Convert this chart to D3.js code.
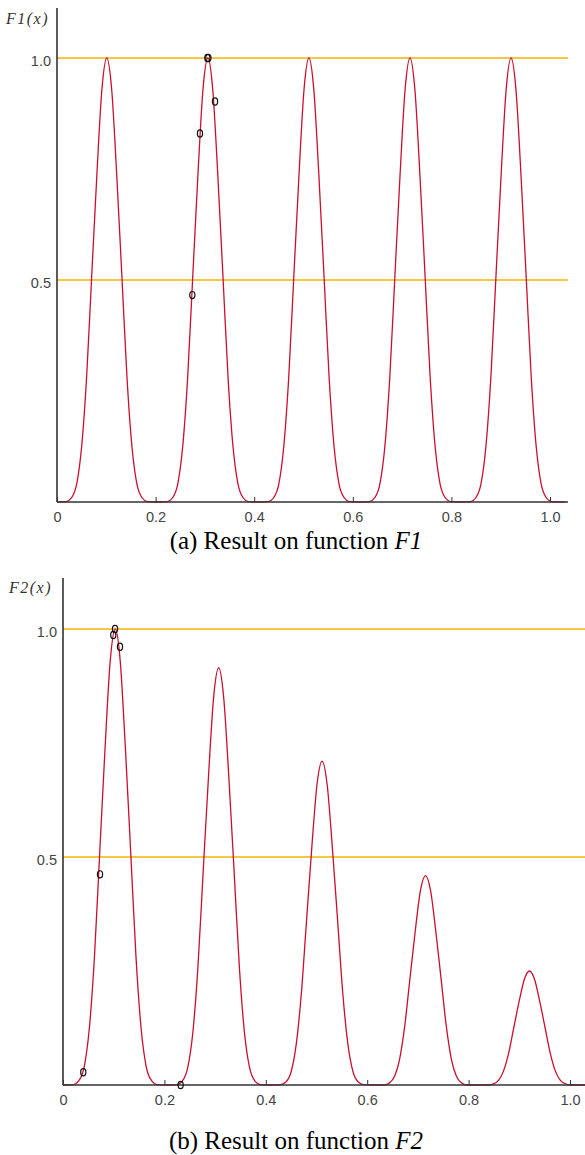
<!DOCTYPE html>
<html>
<head>
<meta charset="utf-8">
<script src="https://cdn.jsdelivr.net/npm/d3@7"></script>
<style>
    body { margin: 0; background: #fff; }
    svg { display: block; }
</style>
</head>
<body>
<svg id="chart" width="585" height="1155"></svg>
<script>
// tick values shared by both panels
var xTicks = [0, 0.2, 0.4, 0.6, 0.8, 1.0];
var yTicks = [0.5, 1.0];

// F1 curve
var f1X = [
    0,
    0.019, 0.029, 0.040, 0.050, 0.060, 0.070, 0.081, 0.091, 0.101, 0.111, 0.121, 0.132, 0.142, 0.152, 0.162, 0.173, 0.183,
    0.204,
    0.224, 0.234, 0.245, 0.255, 0.265, 0.275, 0.286, 0.296, 0.306, 0.316, 0.326, 0.337, 0.347, 0.357, 0.367, 0.378, 0.388,
    0.409,
    0.429, 0.439, 0.450, 0.460, 0.470, 0.480, 0.491, 0.501, 0.511, 0.521, 0.531, 0.542, 0.552, 0.562, 0.572, 0.583, 0.593,
    0.614,
    0.634, 0.644, 0.655, 0.665, 0.675, 0.685, 0.696, 0.706, 0.716, 0.726, 0.736, 0.747, 0.757, 0.767, 0.777, 0.788, 0.798,
    0.819,
    0.839, 0.849, 0.860, 0.870, 0.880, 0.890, 0.901, 0.911, 0.921, 0.931, 0.941, 0.952, 0.962, 0.972, 0.982, 0.993, 1.003,
    1.030
];
var f1Y = [
    0,
    0.001, 0.009, 0.041, 0.125, 0.280, 0.500, 0.740, 0.928, 1.000, 0.928, 0.740, 0.500, 0.280, 0.125, 0.041, 0.009, 0.001,
    0,
    0.001, 0.009, 0.041, 0.125, 0.280, 0.500, 0.740, 0.928, 1.000, 0.928, 0.740, 0.500, 0.280, 0.125, 0.041, 0.009, 0.001,
    0,
    0.001, 0.009, 0.041, 0.125, 0.280, 0.500, 0.740, 0.928, 1.000, 0.928, 0.740, 0.500, 0.280, 0.125, 0.041, 0.009, 0.001,
    0,
    0.001, 0.009, 0.041, 0.125, 0.280, 0.500, 0.740, 0.928, 1.000, 0.928, 0.740, 0.500, 0.280, 0.125, 0.041, 0.009, 0.001,
    0,
    0.001, 0.009, 0.041, 0.125, 0.280, 0.500, 0.740, 0.928, 1.000, 0.928, 0.740, 0.500, 0.280, 0.125, 0.041, 0.009, 0.001,
    0
];
var f1PointX = [0.305, 0.307, 0.3205, 0.290, 0.2745];
var f1PointY = [1.000, 1.000, 0.902, 0.830, 0.466];

// F2 curve
var f2X = [
    0,
    0.021, 0.031, 0.042, 0.052, 0.062, 0.072, 0.083, 0.093, 0.103, 0.113, 0.123, 0.134, 0.144, 0.154, 0.164, 0.175, 0.185,
    0.205,
    0.225, 0.235, 0.246, 0.256, 0.266, 0.276, 0.287, 0.297, 0.307, 0.317, 0.327, 0.338, 0.348, 0.358, 0.368, 0.379, 0.389,
    0.409,
    0.429, 0.439, 0.450, 0.460, 0.470, 0.480, 0.491, 0.501, 0.511, 0.521, 0.531, 0.542, 0.552, 0.562, 0.572, 0.583, 0.593,
    0.613,
    0.633, 0.643, 0.654, 0.664, 0.674, 0.684, 0.695, 0.705, 0.715, 0.725, 0.735, 0.746, 0.756, 0.766, 0.776, 0.787, 0.797,
    0.818,
    0.838, 0.848, 0.859, 0.869, 0.879, 0.889, 0.900, 0.910, 0.920, 0.930, 0.940, 0.951, 0.961, 0.971, 0.981, 0.992, 1.002,
    1.030
];
var f2Y = [
    0,
    0.001, 0.009, 0.041, 0.125, 0.280, 0.500, 0.740, 0.928, 1.000, 0.928, 0.740, 0.500, 0.280, 0.125, 0.041, 0.009, 0.001,
    0,
    0.001, 0.008, 0.038, 0.114, 0.256, 0.458, 0.677, 0.849, 0.915, 0.849, 0.677, 0.458, 0.256, 0.114, 0.038, 0.008, 0.001,
    0,
    0.001, 0.006, 0.029, 0.089, 0.199, 0.355, 0.525, 0.659, 0.710, 0.659, 0.525, 0.355, 0.199, 0.089, 0.029, 0.006, 0.001,
    0,
    0.000, 0.004, 0.019, 0.057, 0.129, 0.230, 0.340, 0.426, 0.459, 0.426, 0.340, 0.230, 0.129, 0.057, 0.019, 0.004, 0.000,
    0,
    0.000, 0.002, 0.010, 0.031, 0.070, 0.125, 0.185, 0.232, 0.250, 0.232, 0.185, 0.125, 0.070, 0.031, 0.010, 0.002, 0.000,
    0
];
var f2PointX = [0.1026, 0.0992, 0.1124, 0.073, 0.040, 0.232];
var f2PointY = [1.000, 0.987, 0.961, 0.462, 0.028, 0.000];

(function(d3) {

    var svg = d3.select("#chart");

    var drawPanel = function(cfg) {
        var x = d3.scaleLinear().domain([0, 1]).range([cfg.left, cfg.x1]);
        var y = d3.scaleLinear().domain([0, 1]).range([cfg.bottom, cfg.y1]);
        var g = svg.append("g").attr("class", cfg.name);

        // orange reference lines
        g.selectAll("line.ref")
            .data(yTicks)
            .enter()
            .append("line")
            .attr("class", "ref")
            .attr("x1", cfg.left)
            .attr("x2", cfg.right)
            .attr("y1", function(d) { return y(d); })
            .attr("y2", function(d) { return y(d); })
            .style("stroke", "#f4b400")
            .style("stroke-width", 1.5);

        var pts = cfg.xs.map(function(v, i) { return [v, cfg.ys[i]]; });
        var line = d3.line()
            .x(function(d) { return x(d[0]); })
            .y(function(d) { return y(d[1]); })
            .curve(d3.curveMonotoneX);

        g.append("path")
            .datum(pts)
            .attr("d", line)
            .style("fill", "none")
            .style("stroke", "#c8102e")
            .style("stroke-width", 1.3);

        var xAxis = d3.axisBottom(x)
            .tickValues(xTicks)
            .tickSizeInner(-5)
            .tickSizeOuter(0)
            .tickPadding(10)
            .tickFormat(function(d) { return d === 0 ? "0" : d3.format(".1f")(d); });

        var ax = g.append("g")
            .attr("transform", "translate(0," + cfg.bottom + ")")
            .call(xAxis);
        ax.select(".domain").remove();
        ax.selectAll(".tick line").style("stroke", "#333");
        ax.selectAll("text")
            .style("font-family", "'Liberation Sans', Arial, sans-serif")
            .style("font-size", "14.5px")
            .style("fill", "#444");

        var yAxis = d3.axisLeft(y)
            .tickValues(yTicks)
            .tickSize(0)
            .tickPadding(6)
            .tickFormat(d3.format(".1f"));

        var ay = g.append("g")
            .attr("transform", "translate(" + cfg.left + ",0)")
            .call(yAxis);
        ay.select(".domain").remove();
        ay.selectAll("text")
            .attr("dy", "0.55em")
            .style("font-family", "'Liberation Sans', Arial, sans-serif")
            .style("font-size", "14.5px")
            .style("fill", "#444");

        // axis lines
        g.append("line")
            .attr("x1", cfg.left).attr("x2", cfg.right)
            .attr("y1", cfg.bottom).attr("y2", cfg.bottom)
            .style("stroke", "#333").style("stroke-width", 1.6);
        g.append("line")
            .attr("x1", cfg.left).attr("x2", cfg.left)
            .attr("y1", cfg.top).attr("y2", cfg.bottom)
            .style("stroke", "#333").style("stroke-width", 1.6);

        g.selectAll("ellipse")
            .data(cfg.px.map(function(v, i) { return [v, cfg.py[i]]; }))
            .enter()
            .append("ellipse")
            .attr("cx", function(d) { return x(d[0]); })
            .attr("cy", function(d) { return y(d[1]); })
            .attr("rx", 2.6)
            .attr("ry", 3.6)
            .style("fill", "none")
            .style("stroke", "#111")
            .style("stroke-width", 1.2);

        g.append("text")
            .attr("x", cfg.labelX)
            .attr("y", cfg.labelY)
            .style("font-family", "'Liberation Serif', 'Times New Roman', serif")
            .style("font-style", "italic")
            .style("font-size", "16px")
            .style("letter-spacing", "1.5px")
            .style("fill", "#333")
            .text(cfg.label);

        var cap = g.append("text")
            .attr("x", cfg.capX)
            .attr("y", cfg.capY)
            .attr("text-anchor", "middle")
            .style("font-family", "'Liberation Serif', 'Times New Roman', serif")
            .style("font-size", "25px")
            .style("fill", "#000");
        cap.append("tspan").text(cfg.caption);
        cap.append("tspan").style("font-style", "italic").text(cfg.fname);
    };

    drawPanel({
        name: "panelA", left: 57, x1: 550, right: 568, bottom: 502, y1: 58, top: 8,
        xs: f1X, ys: f1Y, px: f1PointX, py: f1PointY,
        label: "F1(x)", labelX: 6, labelY: 24,
        caption: "(a) Result on function ", fname: "F1", capX: 296, capY: 549
    });

    drawPanel({
        name: "panelB", left: 63, x1: 570, right: 585, bottom: 1085, y1: 629, top: 578,
        xs: f2X, ys: f2Y, px: f2PointX, py: f2PointY,
        label: "F2(x)", labelX: 9, labelY: 593,
        caption: "(b) Result on function ", fname: "F2", capX: 296, capY: 1149
    });

})(d3);
</script>
</body>
</html>
